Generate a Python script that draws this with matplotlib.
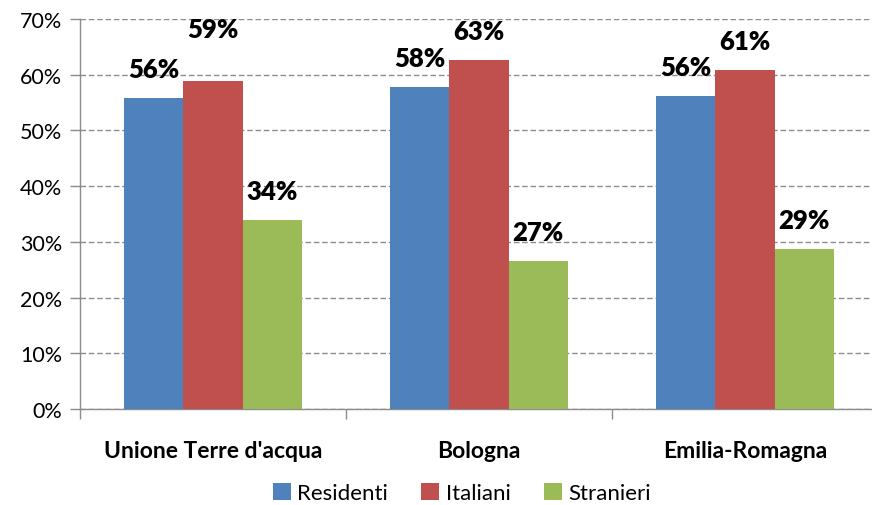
import matplotlib
matplotlib.use("Agg")
import matplotlib.pyplot as plt
import numpy as np

categories = ["Unione Terre d'acqua", "Bologna", "Emilia-Romagna"]
series_names = ["Residenti", "Italiani", "Stranieri"]
residenti = [55.8, 57.8, 56.2]
italiani = [58.9, 62.6, 60.9]
stranieri = [33.9, 26.6, 28.8]
colors = ["#4F81BD", "#C0504D", "#9BBB59"]

plt.rcParams['font.family'] = ['Lato', 'DejaVu Sans']

fig = plt.figure(figsize=(8.72, 5.06), dpi=100)
W, H = 872, 506
ax = fig.add_axes([80 / W, (506 - 410) / H, (878 - 80) / W, (410 - 20) / H])

x = np.arange(len(categories))
bw = 0.222
series = [residenti, italiani, stranieri]
for i, (vals, col, name) in enumerate(zip(series, colors, series_names)):
    pos = x + (i - 1) * bw
    ax.bar(pos, vals, bw, color=col, label=name, zorder=3)
    for j, (p, v) in enumerate(zip(pos, vals)):
        off = 40 if (i == 1 and j == 0) else 17
        ax.annotate(f"{v:.0f}%", (p, v), xytext=(0, off * 0.72), textcoords="offset points",
                    ha="center", va="bottom", fontsize=18.5, fontweight="heavy", color="black")

ax.set_xlim(-0.5, 2.5)
ax.set_ylim(0, 70)
ax.set_yticks(np.arange(0, 71, 10))
ax.set_yticklabels([f"{t}%" for t in range(0, 71, 10)], fontsize=15.5)
ax.yaxis.grid(True, linestyle=(0, (4, 2)), color="#8C8C8C", linewidth=1, zorder=0)
ax.set_axisbelow(True)
ax.set_xticks(x)
ax.set_xticklabels(categories, fontsize=16.5, fontweight="bold")
ax.tick_params(axis="x", length=0, pad=22)
ax.set_xticks([-0.5, 0.5, 1.5, 2.5], minor=True)
ax.tick_params(axis="x", which="minor", length=7, color="#8C8C8C", width=1)
ax.tick_params(axis="y", length=7, color="#8C8C8C", width=1, pad=6)
for s in ["top", "right"]:
    ax.spines[s].set_visible(False)
for s in ["left", "bottom"]:
    ax.spines[s].set_color("#8C8C8C")
    ax.spines[s].set_linewidth(1)

handles, labels = ax.get_legend_handles_labels()
fig.legend(handles, labels, loc="center", bbox_to_anchor=(462 / W, 1 - 494 / H), ncol=3,
           frameon=False, fontsize=16, handlelength=0.8, handleheight=0.8,
           handletextpad=0.3, columnspacing=1.5, borderpad=0.2)

fig.savefig("out.png", dpi=100)
